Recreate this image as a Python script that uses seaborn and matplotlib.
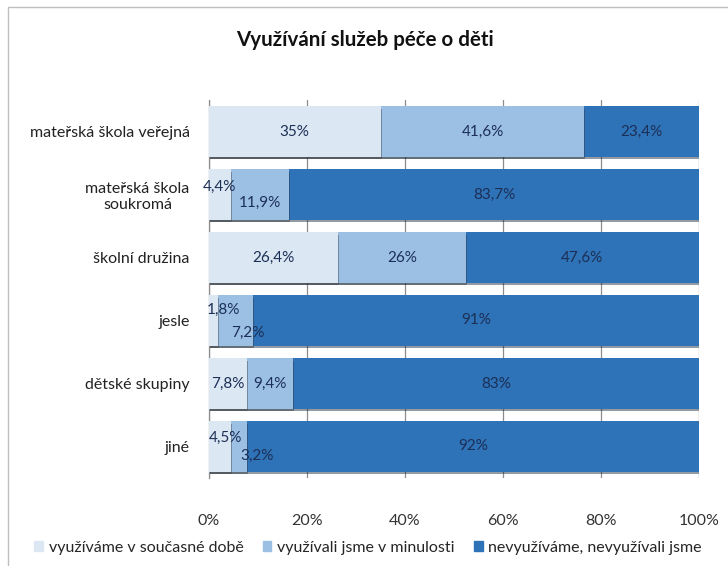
import numpy as np
import pandas as pd
import matplotlib.pyplot as plt
import matplotlib.patheffects as pe
from matplotlib.patches import Rectangle
import seaborn as sns

categories = ['mateřská škola veřejná', 'mateřská škola\nsoukromá', 'školní družina',
              'jesle', 'dětské skupiny', 'jiné']
current = [35, 4.4, 26.4, 1.8, 7.8, 4.5]
past = [41.6, 11.9, 26, 7.2, 9.4, 3.2]
never = [23.4, 83.7, 47.6, 91, 83, 92]
series_names = ['využíváme v současné době', 'využívali jsme v minulosti',
                'nevyužíváme, nevyužívali jsme']
colors = ['#dce7f4', '#9cc0e4', '#2e72b8']

sns.set_theme(style='white')
plt.rcParams['font.family'] = ['Lato', 'DejaVu Sans']

df = pd.DataFrame({'kat': categories, 's1': current, 's2': past, 's3': never})
total = df[['s1', 's2', 's3']].sum(axis=1)
# 100 % skladany graf - normalizace jako v Excelu
for c in ['s1', 's2', 's3']:
    df[c + 'n'] = df[c] / total * 100
df['c1'] = df['s1n']
df['c2'] = df['s1n'] + df['s2n']
df['c3'] = df['c2'] + df['s3n']

fig = plt.figure(figsize=(7.28, 5.66), dpi=100)
ax = fig.add_axes([209 / 728, 1 - 478 / 566, 490 / 728, 378 / 566])

shadow = [pe.SimplePatchShadow(offset=(0.8, -1.8), alpha=0.45), pe.Normal()]
for col, color in zip(['c3', 'c2', 'c1'], colors[::-1]):
    sns.barplot(data=df, x=col, y='kat', color=color, orient='h', width=0.8,
                saturation=1, ax=ax, zorder=3, linewidth=0)
for p in ax.patches:
    p.set_path_effects(shadow)

# popisky hodnot (posun v pixelech)
nudges = {(1, 0): (0, 8), (1, 1): (0, -8), (3, 0): (10, 11), (3, 1): (12, -12),
          (5, 0): (5, 9), (5, 1): (18, -9)}
for i in range(len(categories)):
    left = 0
    for j, (raw, col) in enumerate(zip([current[i], past[i], never[i]], ['s1n', 's2n', 's3n'])):
        w = df[col][i]
        dx, dy = nudges.get((i, j), (0, 0))
        lab = f'{raw:g}%'.replace('.', ',')
        ax.annotate(lab, (left + w / 2, i), xytext=(dx * 0.72, dy * 0.72),
                    textcoords='offset points', ha='center', va='center',
                    fontsize=11, color='#1c2f55', zorder=5)
        left += w

ax.set_xlim(0, 100)
ax.set_ylim(len(categories) - 0.5, -0.5)
ax.set_xticks(np.arange(0, 101, 20))
ax.set_xticklabels([f'{v}%' for v in range(0, 101, 20)], fontsize=11.5, color='#333333')
ax.tick_params(axis='x', length=0, pad=26)
ax.tick_params(axis='y', length=0, pad=14, labelsize=11.5, labelcolor='#222222')
ax.set_xlabel('')
ax.set_ylabel('')
ax.xaxis.grid(True, color='#8c8c8c', linewidth=0.9, zorder=0)
ax.set_axisbelow(True)
for s in ['top', 'right', 'bottom']:
    ax.spines[s].set_visible(False)
ax.spines['left'].set_color('#8c8c8c')
ax.spines['left'].set_linewidth(0.9)
for lbl in ax.get_yticklabels():
    lbl.set_multialignment('center')

fig.text(365 / 728, 1 - 40 / 566, 'Využívání služeb péče o děti', ha='center', va='center',
         fontsize=14.8, fontweight='bold', color='#111111')

handles = [Rectangle((0, 0), 1, 1, color=c) for c in colors]
fig.legend(handles, series_names, loc='center', bbox_to_anchor=(368 / 728, 1 - 548 / 566),
           ncol=3, frameon=False, fontsize=11.5, handlelength=0.55, handleheight=0.6,
           handletextpad=0.35, columnspacing=1.2)

fig.patches.append(Rectangle((8 / 728, -0.01), 0.999, 1 - 7 / 566 + 0.01,
                             transform=fig.transFigure, fill=False,
                             edgecolor='#bfbfbf', linewidth=1))

fig.savefig('out.png', dpi=100)
